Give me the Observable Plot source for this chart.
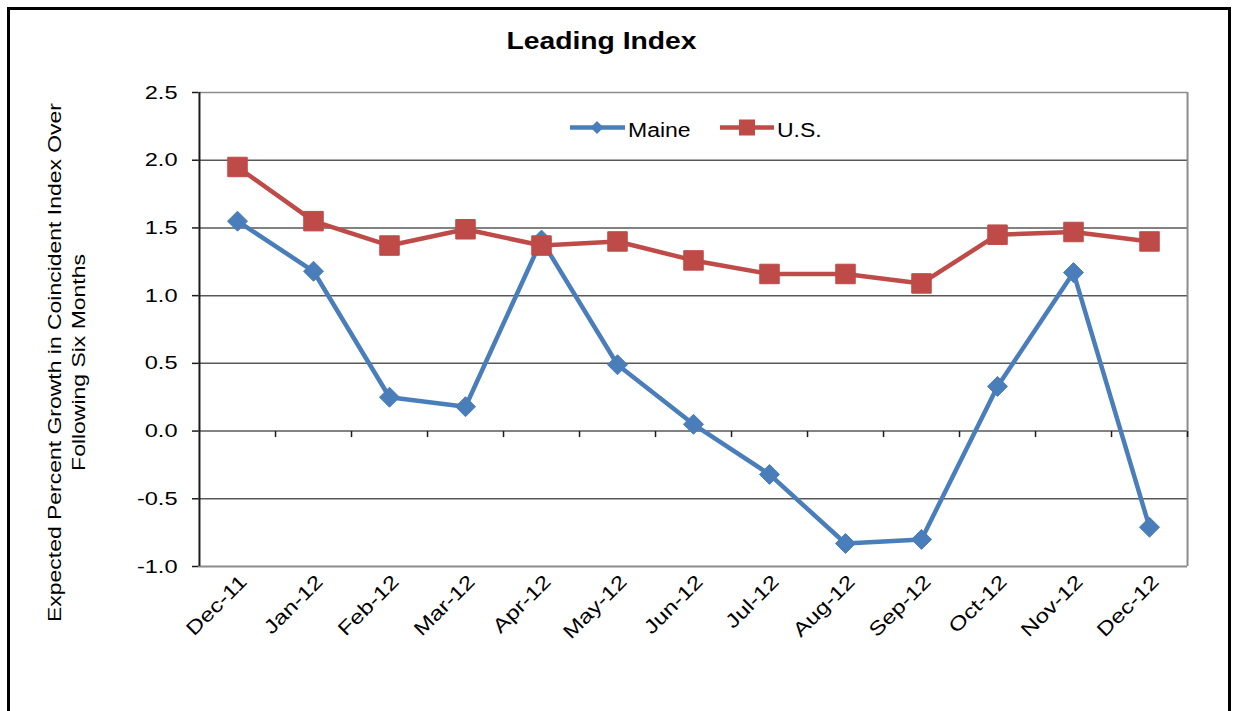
<!DOCTYPE html>
<html><head><meta charset="utf-8">
<script src="https://cdn.jsdelivr.net/npm/d3@7"></script>
<script src="https://cdn.jsdelivr.net/npm/@observablehq/plot@0.6"></script>
<style>
html,body{margin:0;padding:0;background:#fff;overflow:hidden;}
#wrap{position:relative;width:1233px;height:711px;overflow:hidden;font-family:"Liberation Sans",Arial,sans-serif;background:#fff;}
#chart{position:absolute;left:0;top:0;}
#frame{position:absolute;left:7px;top:7px;width:1224px;height:800px;border:3px solid #000;box-sizing:border-box;pointer-events:none;}
#title{position:absolute;left:0;width:1203px;top:30px;text-align:center;font-weight:bold;font-size:23px;line-height:23px;transform:scaleX(1.23);color:#000;}
#legend{position:absolute;left:0;top:0;pointer-events:none;}
</style>
</head><body>
<div id="wrap"><div id="chart"></div><svg id="legend" width="1233" height="711"></svg><div id="title"></div><div id="frame"></div></div>
<script>
const months = ["Dec-11","Jan-12","Feb-12","Mar-12","Apr-12","May-12","Jun-12","Jul-12","Aug-12","Sep-12","Oct-12","Nov-12","Dec-12"];
const maine = [1.55,1.18,0.25,0.18,1.41,0.49,0.05,-0.32,-0.83,-0.80,0.33,1.17,-0.71];
const us = [1.95,1.55,1.37,1.49,1.37,1.40,1.26,1.16,1.16,1.09,1.45,1.47,1.40];
const yTicks = [-1,-0.5,0,0.5,1,1.5,2,2.5];
const seriesNames = ["Maine","U.S."];
const seriesColors = ["#4a7ebb","#be4b48"];
const yTitle = ["Expected Percent Growth in Coincident Index Over","Following Six Months"];
const chartTitle = "Leading Index";

const W = 1233, H = 711, ML = 198, MR = 46, MT = 92, MB = 145;
const step = (W - ML - MR) / months.length;

const maineRows = months.map((m,i)=>({month:m, value:maine[i]}));
const usRows = months.map((m,i)=>({month:m, value:us[i]}));

const diamond = {draw(ctx,size){const h=Math.sqrt(size/2);ctx.moveTo(0,-h);ctx.lineTo(h,0);ctx.lineTo(0,h);ctx.lineTo(-h,0);ctx.closePath();}};
const square = {draw(ctx,size){const s=Math.sqrt(size)/2;ctx.rect(-s,-s,2*s,2*s);}};
const tickSym = {draw(ctx){ctx.moveTo(0,0);ctx.lineTo(0,6);}};

const ff = '"Liberation Sans", Arial, sans-serif';
const plot = Plot.plot({
  width: W, height: H,
  marginLeft: ML, marginRight: MR, marginTop: MT, marginBottom: MB,
  style: {fontFamily: ff, fontSize: "18px", color: "#000", background: "transparent"},
  x: {type: "point", domain: months, padding: 0.5},
  y: {domain: [-1, 2.5]},
  marks: [
    Plot.ruleY(yTicks.filter(v => v > -1 && v < 2.5), {stroke: "#585858", strokeWidth: 1.5}),
    Plot.ruleY([2.5], {stroke: "#8c8c8c", strokeWidth: 1.5}),
    Plot.ruleY([-1], {stroke: "#8c8c8c", strokeWidth: 2}),
    Plot.ruleX([months[months.length-1]], {dx: step/2, stroke: "#8c8c8c", strokeWidth: 2}),
    Plot.ruleX([months[0]], {dx: -step/2, stroke: "#1a1a1a", strokeWidth: 2}),
    Plot.dot(months, {x: d => d, y: () => 0, symbol: tickSym, r: 3, dx: step/2, stroke: "#1a1a1a", strokeWidth: 1.5, fill: "none"}),
    Plot.axisY({ticks: yTicks, tickFormat: v => v.toFixed(1), tickSize: 6, tickPadding: 15, fontSize: 19, label: null, stroke: "#1a1a1a", strokeWidth: 1.5}),
    Plot.axisX({tickRotate: -45, tickSize: 0, tickPadding: 12, dx: 6, fontSize: 19.5, label: null}),
    Plot.line(maineRows, {x: "month", y: "value", stroke: seriesColors[0], strokeWidth: 4.5}),
    Plot.dot(maineRows, {x: "month", y: "value", symbol: diamond, r: Math.sqrt(200/Math.PI), fill: seriesColors[0], stroke: seriesColors[0], strokeWidth: 1}),
    Plot.line(usRows, {x: "month", y: "value", stroke: seriesColors[1], strokeWidth: 4.5}),
    Plot.dot(usRows, {x: "month", y: "value", symbol: square, r: Math.sqrt(380/Math.PI), fill: seriesColors[1], stroke: seriesColors[1], strokeWidth: 1}),
    Plot.text([yTitle[0]], {text: d => d, frameAnchor: "left", textAnchor: "middle", lineAnchor: "middle", rotate: -90, dx: 55 - ML, dy: 33, fontSize: 18.5}),
    Plot.text([yTitle[1]], {text: d => d, frameAnchor: "left", textAnchor: "middle", lineAnchor: "middle", rotate: -90, dx: 79 - ML, dy: 33, fontSize: 18.5})
  ]
});
document.getElementById("chart").appendChild(plot);
document.getElementById("title").textContent = chartTitle;

function stretch(root, factor){
  root.querySelectorAll("text").forEach(t => {
    const L = t.getComputedTextLength();
    if (L > 0) { t.setAttribute("textLength", (L*factor).toFixed(2)); t.setAttribute("lengthAdjust", "spacingAndGlyphs"); }
  });
}
stretch(plot, 1.24);

// Legend
const lg = d3.select("#legend");
const legendItems = [
  {name: seriesNames[0], color: seriesColors[0], x0: 570, x1: 625, cx: 597, shape: "diamond", tx: 628},
  {name: seriesNames[1], color: seriesColors[1], x0: 720, x1: 774, cx: 747, shape: "square", tx: 777}
];
const ly = 127.5;
legendItems.forEach(it => {
  lg.append("line").attr("x1", it.x0).attr("x2", it.x1).attr("y1", ly).attr("y2", ly).attr("stroke", it.color).attr("stroke-width", 4.5);
  if (it.shape === "diamond") {
    lg.append("path").attr("d", `M${it.cx},${ly-6.5}L${it.cx+6.5},${ly}L${it.cx},${ly+6.5}L${it.cx-6.5},${ly}Z`).attr("fill", it.color);
  } else {
    lg.append("rect").attr("x", it.cx-8).attr("y", ly-8).attr("width", 16).attr("height", 16).attr("fill", it.color);
  }
  lg.append("text").attr("x", it.tx).attr("y", 136.5).attr("font-size", 20).attr("font-family", ff).attr("fill", "#000").text(it.name);
});
stretch(document.getElementById("legend"), 1.15);
</script>
</body></html>
